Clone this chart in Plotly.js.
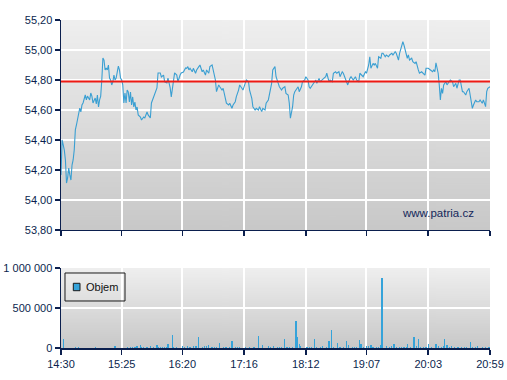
<!DOCTYPE html>
<html>
<head>
<meta charset="utf-8">
<script src="https://cdn.plot.ly/plotly-3.0.1.min.js"></script>
<style>html,body{margin:0;padding:0;background:#fff;}#chart{width:507px;height:380px;}</style>
</head>
<body>
<div id="chart"></div>
<script>
// ---- data ----
const sessionDate = '2000-01-03';
const previousClose = 54.79;

const priceTimes = [
 '14:30','14:31','14:32','14:33','14:34','14:35','14:36','14:37','14:38','14:39','14:40','14:41','14:42','14:43','14:44','14:45','14:46','14:47','14:48','14:49','14:50','14:51','14:52','14:53','14:54','14:56','14:57','14:58','14:59',
 '15:01','15:02','15:03','15:04','15:05','15:06','15:07','15:08','15:09','15:10','15:11','15:12','15:13','15:14','15:15','15:16','15:17','15:18','15:19','15:20','15:21','15:22','15:23','15:24','15:25','15:26','15:27','15:28','15:29','15:30','15:31','15:32','15:33','15:34','15:35','15:36','15:37','15:38','15:39','15:40','15:42','15:43','15:45','15:46','15:48','15:49','15:51','15:52','15:54','15:55','15:57','15:58',
 '16:00','16:01','16:03','16:04','16:06','16:07','16:09','16:10','16:12','16:13','16:15','16:16','16:18','16:19','16:21','16:23','16:24','16:25','16:26','16:27','16:29','16:30','16:32','16:33','16:35','16:36','16:38','16:39','16:41','16:42','16:44','16:45','16:47','16:48','16:50','16:51','16:53','16:54','16:56','16:57','16:59',
 '17:00','17:02','17:03','17:05','17:06','17:08','17:09','17:11','17:12','17:14','17:15','17:17','17:18','17:20','17:21','17:23','17:24','17:26','17:27','17:29','17:30','17:32','17:33','17:35','17:36','17:38','17:39','17:41','17:42','17:43','17:44','17:45','17:46','17:47','17:48','17:50','17:51','17:53','17:54','17:56','17:57','17:58',
 '18:00','18:01','18:02','18:03','18:05','18:06','18:08','18:09','18:11','18:12','18:14','18:15','18:16','18:18','18:19','18:21','18:22','18:24','18:25','18:27','18:28','18:30','18:31','18:33','18:34','18:36','18:37','18:39','18:40','18:42','18:43','18:45','18:46','18:48','18:49','18:50','18:52','18:53','18:55','18:56','18:57','18:58',
 '19:00','19:01','19:03','19:04','19:06','19:07','19:09','19:10','19:11','19:13','19:14','19:15','19:17','19:18','19:20','19:21','19:22','19:24','19:25','19:27','19:28','19:30','19:31','19:33','19:34','19:36','19:37','19:39','19:40','19:41','19:43','19:44','19:45','19:46','19:48','19:49','19:51','19:52','19:54','19:55','19:57','19:58',
 '20:00','20:01','20:03','20:05','20:07','20:08','20:09','20:10','20:12','20:13','20:14','20:15','20:16','20:17','20:19','20:20','20:22','20:23','20:25','20:26','20:28','20:29','20:31','20:32','20:34','20:35','20:37','20:38','20:40','20:41','20:42','20:43','20:44','20:46','20:47','20:49','20:50','20:52','20:53','20:55','20:56','20:57','20:59'
];
const prices = [
 54.167,54.400,54.367,54.333,54.267,54.113,54.147,54.213,54.167,54.133,54.233,54.267,54.333,54.467,54.500,54.533,54.567,54.613,54.587,54.633,54.647,54.687,54.700,54.667,54.693,54.667,54.713,54.693,54.647,
 54.680,54.640,54.700,54.620,54.667,54.693,54.800,54.947,54.933,54.867,54.880,54.867,54.900,54.813,54.800,54.767,54.787,54.833,54.800,54.813,54.853,54.893,54.867,54.813,54.800,54.767,54.647,54.713,54.647,54.733,54.720,54.653,54.720,54.633,54.687,54.620,54.653,54.600,54.620,54.567,54.553,54.533,54.553,54.547,54.587,54.567,54.547,54.647,54.687,54.713,54.747,54.847,
 54.847,54.820,54.833,54.787,54.780,54.813,54.747,54.687,54.820,54.847,54.833,54.787,54.833,54.847,54.853,54.880,54.878,54.889,54.867,54.878,54.855,54.878,54.845,54.867,54.889,54.900,54.855,54.867,54.833,54.867,54.845,54.889,54.900,54.867,54.800,54.722,54.767,54.755,54.733,54.745,54.667,
 54.645,54.633,54.645,54.611,54.633,54.655,54.689,54.733,54.767,54.745,54.733,54.778,54.800,54.789,54.733,54.678,54.622,54.600,54.611,54.600,54.622,54.589,54.611,54.600,54.645,54.667,54.711,54.778,54.867,54.878,54.889,54.822,54.789,54.778,54.755,54.733,54.745,54.755,54.711,54.700,54.645,54.545,
 54.622,54.700,54.722,54.733,54.755,54.722,54.755,54.789,54.800,54.822,54.800,54.755,54.745,54.767,54.778,54.800,54.778,54.811,54.789,54.800,54.811,54.822,54.845,54.789,54.800,54.789,54.845,54.855,54.845,54.855,54.822,54.855,54.845,54.800,54.789,54.767,54.811,54.822,54.800,54.811,54.822,54.800,
 54.789,54.845,54.833,54.822,54.855,54.845,54.900,54.955,54.878,54.911,54.900,54.911,54.878,54.955,54.945,54.978,54.978,54.955,54.967,54.955,54.967,54.978,54.967,54.989,54.978,54.933,54.978,55.033,55.055,55.033,54.978,54.945,54.967,54.933,54.945,54.922,54.911,54.922,54.867,54.845,54.855,54.845,
 54.833,54.878,54.878,54.867,54.855,54.867,54.855,54.915,54.845,54.767,54.667,54.745,54.711,54.767,54.789,54.767,54.789,54.800,54.789,54.755,54.778,54.745,54.800,54.800,54.722,54.722,54.700,54.722,54.745,54.689,54.655,54.611,54.633,54.667,54.655,54.655,54.667,54.645,54.667,54.622,54.722,54.745,54.755
];

const volumeTimes = [
 '14:32','14:43','14:46','15:01','15:19','15:30','15:33','15:35','15:37','15:39','15:42','15:43','15:45','15:48','15:51','15:54','15:57','15:58',
 '16:00','16:02','16:04','16:06','16:07','16:11','16:12','16:15','16:20','16:22','16:25','16:27','16:30','16:32','16:33','16:35','16:38','16:40','16:42','16:44','16:47','16:49','16:51','16:54','16:57','16:59',
 '17:00','17:03','17:05','17:08','17:10','17:12','17:17','17:21','17:25','17:29','17:33','17:38','17:40','17:43','17:46','17:48','17:50','17:53','17:55','17:57',
 '18:00','18:03','18:04','18:06','18:07','18:13','18:15','18:17','18:20','18:22','18:25','18:27','18:31','18:33','18:35','18:37','18:41','18:43','18:46','18:49','18:51','18:54','18:56','18:58',
 '19:01','19:02','19:04','19:07','19:09','19:11','19:13','19:16','19:18','19:20','19:21','19:25','19:28','19:30','19:32','19:34','19:37','19:39','19:41','19:43','19:44','19:47','19:50','19:52','19:54','19:56','19:59',
 '20:01','20:03','20:06','20:10','20:12','20:15','20:17','20:18','20:20','20:22','20:24','20:27','20:30','20:33','20:36','20:38','20:41','20:43','20:46','20:48','20:52','20:55','20:58'
];
const volumes = [
 112000,12000,10000,10000,30000,10000,12000,10000,15000,25000,40000,12000,15000,10000,30000,12000,40000,15000,
 12000,10000,15000,12000,50000,167000,15000,10000,30000,12000,20000,12000,20000,30000,30000,137000,12000,25000,30000,35000,12000,15000,10000,62000,12000,12000,
 15000,10000,92000,15000,12000,15000,12000,10000,15000,154000,40000,25000,12000,30000,10000,15000,10000,117000,12000,10000,
 10000,333000,137000,54000,30000,12000,10000,10000,117000,12000,12000,30000,10000,92000,229000,12000,67000,10000,12000,92000,35000,12000,15000,12000,
 104000,54000,12000,20000,20000,40000,12000,12000,12000,35000,879000,20000,12000,20000,54000,12000,15000,12000,12000,12000,54000,12000,137000,30000,117000,12000,12000,
 15000,50000,12000,54000,20000,15000,30000,117000,40000,12000,25000,12000,12000,12000,12000,12000,79000,12000,12000,20000,12000,12000,12000
];

const timeTickLabels = ['14:30','15:25','16:20','17:16','18:12','19:07','20:03','20:59'];
const priceTicks = [53.8, 54.0, 54.2, 54.4, 54.6, 54.8, 55.0, 55.2];
const volumeTicks = [0, 500000, 1000000];
const volumeName = 'Objem';
const watermark = 'www.patria.cz';

// ---- helpers ----
const toDate = t => sessionDate + ' ' + t;
function gradient(top, bottom) {
  const c = document.createElement('canvas');
  c.width = 4; c.height = 256;
  const g = c.getContext('2d');
  const gr = g.createLinearGradient(0, 0, 0, 256);
  gr.addColorStop(0, top); gr.addColorStop(1, bottom);
  g.fillStyle = gr; g.fillRect(0, 0, 4, 256);
  return c.toDataURL('image/png');
}
const bg = gradient('#efefef', '#c8c8c8');

const navy = '#0b1f4e';
const lineBlue = '#3a9fd2';
const font = {family: 'Liberation Sans, Arial, sans-serif', size: 11, color: navy};
const mainDomain = [0.3598, 1];
const volDomain = [0, 0.2439];
const xRange = [toDate('14:30'), toDate('20:59')];

const traces = [
  {
    type: 'scatter', mode: 'lines',
    x: priceTimes.map(toDate), y: prices,
    line: {color: lineBlue, width: 1.1},
    xaxis: 'x', yaxis: 'y', showlegend: false, hoverinfo: 'skip'
  },
  {
    type: 'bar',
    x: volumeTimes.map(toDate), y: volumes,
    width: 66000,
    marker: {color: '#35a3da', line: {width: 0}},
    xaxis: 'x2', yaxis: 'y2', showlegend: false, hoverinfo: 'skip'
  }
];

const xCommon = {
  type: 'date', range: xRange,
  tickvals: timeTickLabels.map(toDate), ticktext: timeTickLabels,
  showgrid: true, gridcolor: '#ffffff', gridwidth: 2,
  showline: true, linecolor: navy, linewidth: 1.5,
  ticks: 'outside', ticklen: 5, tickcolor: navy, tickwidth: 1.5,
  zeroline: false, fixedrange: true, tickfont: font
};

const layout = {
  width: 507, height: 380,
  margin: {l: 61, r: 17, t: 20, b: 32, pad: 0},
  paper_bgcolor: '#ffffff', plot_bgcolor: 'rgba(0,0,0,0)',
  separators: ', ',
  font: font,
  showlegend: false,
  bargap: 0,
  xaxis: Object.assign({}, xCommon, {anchor: 'y', showticklabels: false}),
  xaxis2: Object.assign({}, xCommon, {anchor: 'y2', matches: 'x'}),
  yaxis: {
    domain: mainDomain, range: [53.8, 55.2], tickvals: priceTicks, tickformat: '.2f',
    showgrid: true, gridcolor: '#ffffff', gridwidth: 2,
    showline: true, linecolor: navy, linewidth: 1.5,
    ticks: 'outside', ticklen: 5, tickcolor: navy, tickwidth: 1.5,
    zeroline: false, fixedrange: true, tickfont: font
  },
  yaxis2: {
    domain: volDomain, range: [0, 1000000], tickvals: volumeTicks, tickformat: ',d',
    showgrid: true, gridcolor: '#ffffff', gridwidth: 2,
    showline: true, linecolor: navy, linewidth: 1.5,
    ticks: 'outside', ticklen: 5, tickcolor: navy, tickwidth: 1.5,
    zeroline: false, fixedrange: true, tickfont: font
  },
  images: [
    {source: bg, xref: 'paper', yref: 'paper', x: 0, y: mainDomain[1], sizex: 1, sizey: mainDomain[1] - mainDomain[0], xanchor: 'left', yanchor: 'top', sizing: 'stretch', layer: 'below'},
    {source: bg, xref: 'paper', yref: 'paper', x: 0, y: volDomain[1], sizex: 1, sizey: volDomain[1] - volDomain[0], xanchor: 'left', yanchor: 'top', sizing: 'stretch', layer: 'below'}
  ],
  shapes: [
    {type: 'line', xref: 'paper', yref: 'y', x0: 0, x1: 1, y0: previousClose, y1: previousClose, line: {color: '#ee1a14', width: 2}, layer: 'above'},
    // legend box
    {type: 'rect', xref: 'paper', yref: 'paper', x0: 0.0093, x1: 0.1492, y0: 0.1433, y1: 0.2287, line: {color: '#1a1a1a', width: 1}, fillcolor: 'rgba(0,0,0,0)', layer: 'above'},
    {type: 'rect', xref: 'paper', yref: 'paper', x0: 0.0287, x1: 0.0443, y0: 0.1747, y1: 0.1973, line: {color: '#1a1a1a', width: 1}, fillcolor: '#35a3da', layer: 'above'}
  ],
  annotations: [
    {text: watermark, xref: 'paper', yref: 'paper', x: (438 - 61) / 429, y: (348 - 213) / 328, xanchor: 'center', yanchor: 'middle', showarrow: false, font: {family: 'Liberation Sans, Arial, sans-serif', size: 11.5, color: '#14275a'}},
    {text: volumeName, xref: 'paper', yref: 'paper', x: (84 - 61) / 429, y: (348 - 287) / 328, xanchor: 'left', yanchor: 'middle', showarrow: false, font: {family: 'Liberation Sans, Arial, sans-serif', size: 11, color: '#111111'}}
  ]
};

Plotly.newPlot('chart', traces, layout, {displayModeBar: false, staticPlot: true});
</script>
</body>
</html>
